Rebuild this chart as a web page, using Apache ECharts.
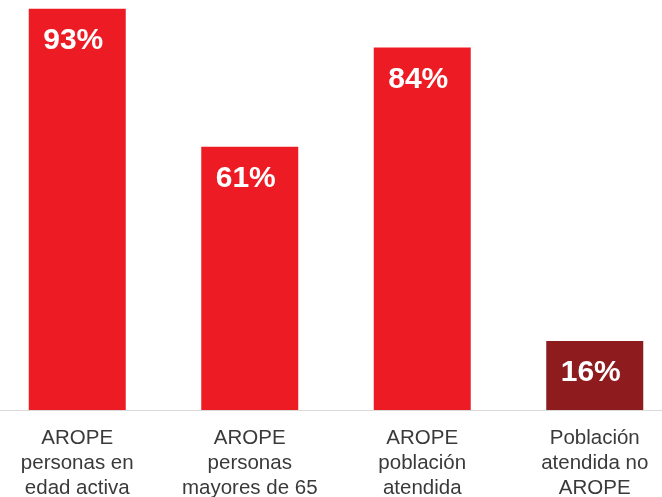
<!DOCTYPE html>
<html>
<head>
<meta charset="utf-8">
<script src="https://cdn.jsdelivr.net/npm/echarts@6/dist/echarts.min.js"></script>
<style>
  html, body { margin: 0; padding: 0; background: #fff; overflow: hidden; }
  #wrap { width: 662px; height: 497px; overflow: hidden; position: relative; }
  #chart { width: 690px; height: 497px; position: absolute; left: -9px; top: 0; }
</style>
</head>
<body>
<div id="wrap"><div id="chart"></div></div>
<script>
var categories = [
  'AROPE\npersonas en\nedad activa',
  'AROPE\npersonas\nmayores de 65',
  'AROPE\npoblación\natendida',
  'Población\natendida no\nAROPE'
];
var values = [93, 61, 84, 16];
var colors = ['#ed1c24', '#ed1c24', '#ed1c24', '#8e1b1e'];

var chart = echarts.init(document.getElementById('chart'));

chart.setOption({
  animation: false,
  grid: {
    left: 0,
    right: 0,
    top: 0,
    bottom: 87,
    containLabel: false,
    outerBoundsMode: 'none'
  },
  xAxis: {
    type: 'category',
    data: categories,
    axisLine: { lineStyle: { color: '#d9d9d9', width: 1 } },
    axisTick: { show: false },
    axisLabel: {
      interval: 0,
      margin: 16,
      color: '#3a3a3a',
      fontFamily: 'Liberation Sans, Arial, sans-serif',
      fontSize: 20.5,
      lineHeight: 25
    }
  },
  yAxis: {
    type: 'value',
    min: 0,
    max: 95,
    show: false,
    splitLine: { show: false }
  },
  series: [{
    type: 'bar',
    barWidth: 97,
    data: values.map(function(v, i) {
      return { value: v, itemStyle: { color: colors[i] } };
    }),
    label: {
      show: true,
      position: 'insideTop',
      distance: 17,
      offset: [-4, 0],
      formatter: '{c}%',
      color: '#fff',
      fontWeight: 'bold',
      fontSize: 30,
      fontFamily: 'Liberation Sans, Arial, sans-serif'
    }
  }]
});
</script>
</body>
</html>
